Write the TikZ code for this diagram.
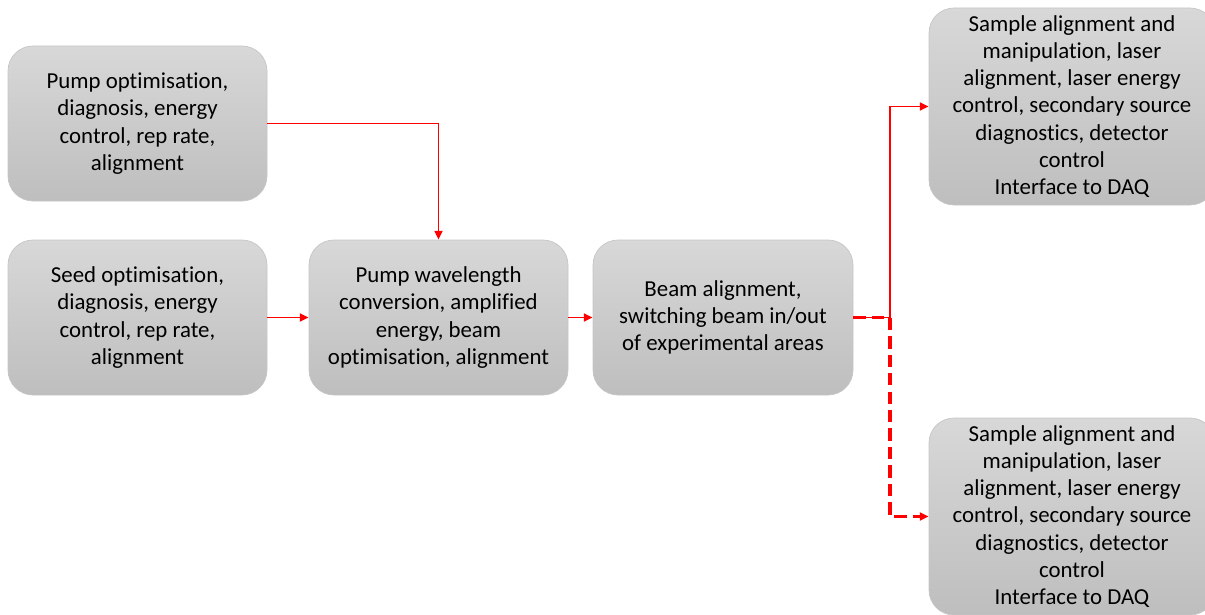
\documentclass[tikz,border=0pt]{standalone}
\usepackage{fontspec}
\setmainfont[Ligatures={NoCommon}]{Carlito}
\usetikzlibrary{arrows.meta}

\begin{document}
\begin{tikzpicture}[
        task/.style={rectangle, rounded corners=0.5cm, draw=gray!45, line width=0.4pt,
            top color=boxtop, bottom color=boxbot, align=center,
            minimum width=5.18cm, minimum height=3.1cm, inner sep=0pt,
            font=\fontsize{13}{15.5}\selectfont},
        wide/.style={task, minimum width=5.72cm, minimum height=3.94cm},
        flow/.style={color=red, line width=1.1pt, -{Triangle[length=5pt, width=4.5pt]}},
        alt/.style={flow, line width=1.8pt, dash pattern=on 7pt off 3.5pt}
    ]
        \definecolor{boxtop}{RGB}{216,216,216}
        \definecolor{boxbot}{RGB}{190,190,190}
        \useasboundingbox (0,0) rectangle (24.1,-12.3);

        \node[task] (P) at (2.75,-2.47) {Pump optimisation,\\ diagnosis, energy\\ control, rep rate,\\ alignment};
        \node[task] (S) at (2.75,-6.35) {Seed optimisation,\\ diagnosis, energy\\ control, rep rate,\\ alignment};
        \node[task] (W) at (8.77,-6.35) {Pump wavelength\\ conversion, amplified\\ energy, beam\\ optimisation, alignment};
        \node[task, minimum width=5.2cm] (B) at (14.46,-6.35) {Beam alignment,\\ switching beam in/out\\ of experimental areas};
        \node[wide] (T1) at (21.44,-2.13) {Sample alignment and\\ manipulation, laser\\ alignment, laser energy\\ control, secondary source\\ diagnostics, detector\\ control\\ Interface to DAQ};
        \node[wide] (T2) at (21.44,-10.33) {Sample alignment and\\ manipulation, laser\\ alignment, laser energy\\ control, secondary source\\ diagnostics, detector\\ control\\ Interface to DAQ};

        \coordinate (J) at (17.8,-6.35);

        \draw[flow] (P.east) -| (W.north);
        \draw[flow] (S) -- (W);
        \draw[flow] (W) -- (B);
        \draw[alt] (B.east) -- (J) |- (T2.west);
        \draw[flow] (B.east) -- (J) |- (T1.west);
    \end{tikzpicture}
\end{document}
